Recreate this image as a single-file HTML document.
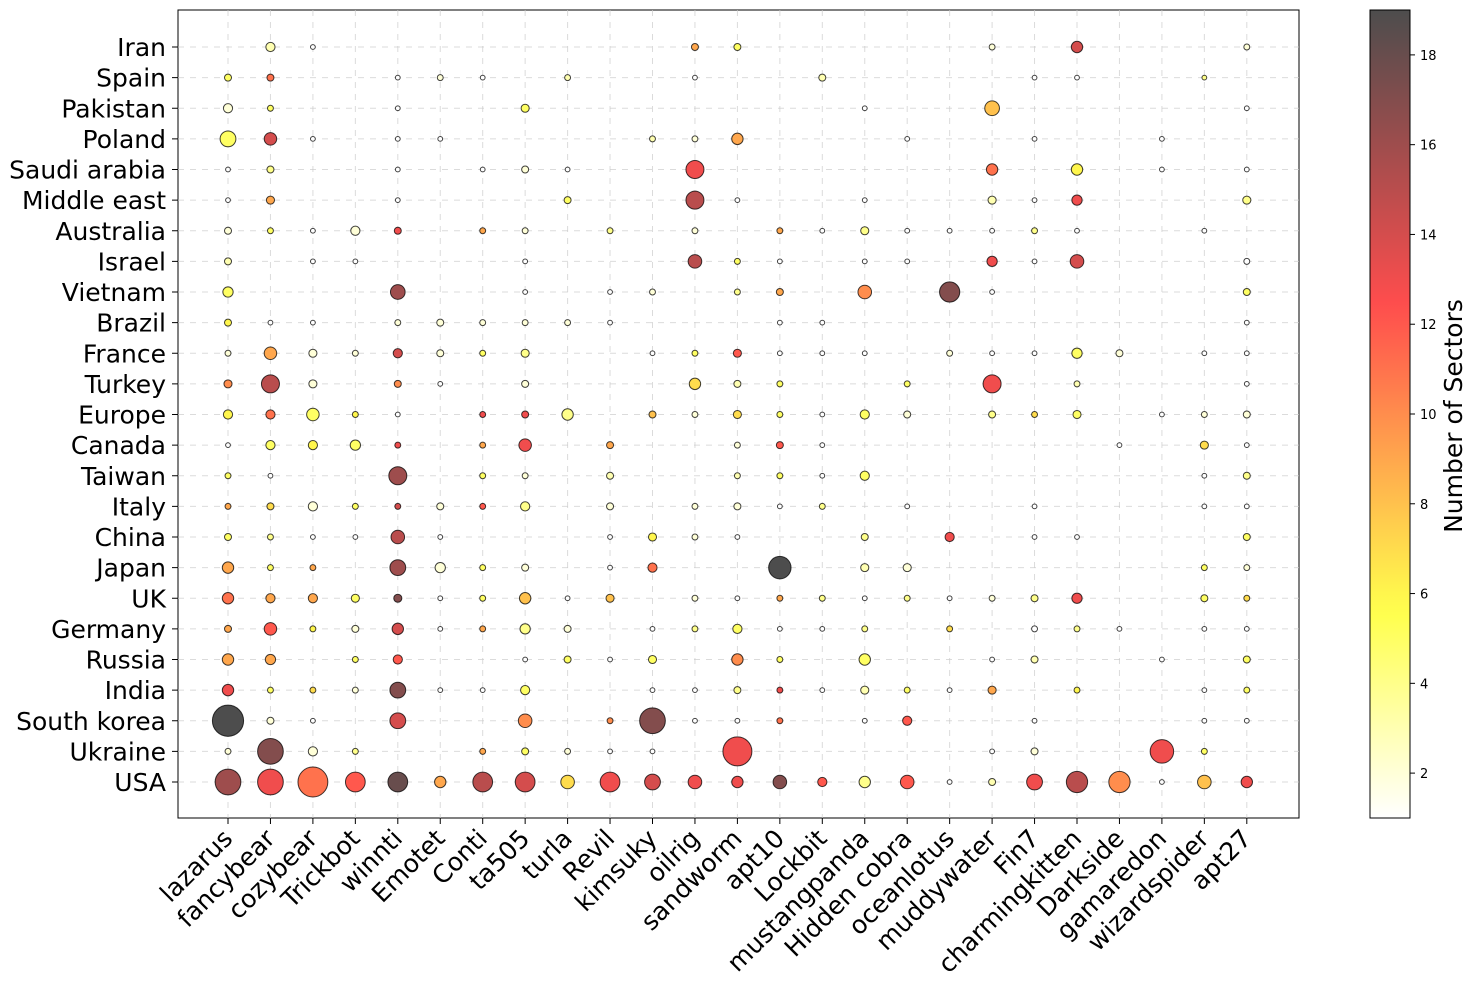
<!DOCTYPE html>
<html><head><meta charset="utf-8"><style>
html,body{margin:0;padding:0;background:#fff;}
svg{display:block;font-family:"DejaVu Sans","Liberation Sans",sans-serif;}
</style></head><body>
<svg id="chart" width="1476" height="990" viewBox="0 0 1476 990" xmlns="http://www.w3.org/2000/svg">
<defs><linearGradient id="cbgrad" x1="0" y1="1" x2="0" y2="0"></linearGradient></defs>
<rect x="178" y="10" width="1121" height="808" fill="#fff" stroke="#000" stroke-width="1"/>
<g id="grid"></g><g id="marks"></g><g id="xlabels"></g><g id="ylabels"></g><g id="colorbar"></g>
</svg>
<script>
const groups = ["lazarus","fancybear","cozybear","Trickbot","winnti","Emotet","Conti","ta505","turla","Revil","kimsuky","oilrig","sandworm","apt10","Lockbit","mustangpanda","Hidden cobra","oceanlotus","muddywater","Fin7","charmingkitten","Darkside","gamaredon","wizardspider","apt27"];
const countries = ["Iran","Spain","Pakistan","Poland","Saudi arabia","Middle east","Australia","Israel","Vietnam","Brazil","France","Turkey","Europe","Canada","Taiwan","Italy","China","Japan","UK","Germany","Russia","India","South korea","Ukraine","USA"];
const cbTicks = [2,4,6,8,10,12,14,16,18];
// each cell "sectors/size", "-" = none
const cells = [
["-","3/3","1/1","-","-","-","-","-","-","-","-","9/2","5/2","-","-","-","-","-","2/1.5","-","14/4","-","-","-","2/1.5"],
["5/2","11/2","-","-","1/1","2/1.5","1/1","-","3/1.5","-","-","1/1","-","-","3/2","-","-","-","-","1/1","1/1","-","-","4/1","-"],
["2/3","5/1.5","-","-","1/1","-","-","5/2.5","-","-","-","-","-","-","-","1/1","-","-","8/5.5","-","-","-","-","-","1/1"],
["5/6","14/4.5","1/1","-","1/1","1/1","-","-","-","-","3/1.5","2/1.5","9/4","-","-","-","1/1","-","-","1/1","-","-","1/1","-","-"],
["1/1","4/2","-","-","1/1","-","1/1","2/2","1/1","-","-","13/7","-","-","-","-","-","-","11/4","-","6/4","-","1/1","-","1/1"],
["1/1","9/2.5","-","-","1/1","-","-","-","5/2","-","-","15/7","1/1","-","-","1/1","-","-","3/2.5","1/1","13/3.5","-","-","-","4/2.5"],
["2/2","5/1.5","1/1","2/3","13/2","-","9/1.5","2/1.5","-","4/1.5","-","2/1.5","-","9/1.5","1/1","4/2.5","1/1","1/1","1/1","4/1.5","1/1","-","-","1/1","-"],
["3/2","-","1/1","1/1","-","-","-","1/1","-","-","-","15/5","5/1.5","1/1","-","1/1","1/1","-","13/3.5","1/1","14/5","-","-","-","1/1.5"],
["5/3.5","-","-","-","16/5.5","-","-","1/1","-","1/1","2/1.5","-","4/1.5","9/2","-","10/5","-","17/8","1/1","-","-","-","-","-","5/2"],
["6/2","1/1","1/1","-","2/1.5","2/2","2/1.5","2/1.5","2/1.5","1/1","-","-","-","1/1","1/1","-","-","-","-","-","-","-","-","-","1/1"],
["2/1.5","9/4.5","2/2.5","2/1.5","14/3","2/2","5/1.5","4/2.5","-","-","1/1","5/1.5","12/2.5","1/1","1/1","1/1","-","2/1.5","1/1","1/1","5/3.5","2/2","-","1/1","1/1"],
["10/2.5","15/7","2/2.5","-","10/2","1/1","-","2/2","-","-","-","7/4","3/2","5/1.5","-","-","5/1.5","-","13/7","-","3/1.5","-","-","-","1/1"],
["6/3","11/3","5/4.5","6/1.5","1/1","-","13/1.5","13/2","4/4","-","8/2","2/1.5","7/2.5","5/1.5","1/1","5/3","2/2","-","4/2","7/1.5","5/2.5","-","1/1","2/1.5","2/2"],
["1/1","5/3","6/3","5/3.5","13/1.5","-","9/1.5","13/4.5","-","9/2","-","-","2/1.5","12/2","1/1","-","-","-","-","-","-","1/1","-","7/2.5","1/1"],
["5/1.5","1/1","-","-","16/7","-","5/1.5","2/1.5","-","3/2","-","-","3/1.5","5/1.5","1/1","5/3","-","-","-","-","-","-","-","1/1","4/2"],
["9/1.5","7/2","2/3","5/1.5","14/1.5","2/2","12/1.5","4/3","-","2/2","-","2/1.5","2/2","1/1","4/1.5","-","1/1","-","-","1/1","-","-","-","1/1","1/1"],
["5/2","4/1.5","1/1","1/1","15/5","1/1","-","-","-","1/1","6/2.5","2/1.5","1/1","-","-","4/2","-","13/3","-","1/1","1/1","-","-","-","5/2"],
["9/4","5/1.5","9/1.5","-","16/6","2/3.5","5/1.5","2/2","-","1/1","11/3","-","-","19/9","-","3/2.5","2/2.5","-","-","-","-","-","-","5/1.5","2/1.5"],
["11/4","9/3","9/3","5/2.5","17/2.5","1/1","5/1.5","8/4","1/1","8/2.5","-","2/1.5","1/1","9/1.5","4/1.5","1/1","4/1.5","1/1","2/1.5","4/2","13/3.5","-","-","5/2","7/1.5"],
["9/2","12/4.5","6/1.5","2/2","14/4","1/1","9/1.5","4/3.5","2/2","-","1/1","4/1.5","5/3","1/1","1/1","4/1.5","-","7/1.5","-","1/1.5","4/1.5","1/1","-","1/1","1/1"],
["9/4","9/3.5","-","5/1.5","12/3","-","-","1/1","5/2","1/1","5/2.5","-","10/4","5/1.5","-","5/4","-","-","1/1","3/2","-","-","1/1","-","5/2"],
["13/4","5/1.5","7/1.5","2/1.5","17/6","1/1","1/1","5/3","-","-","1/1","1/1","4/2","13/1.5","1/1","3/2.5","5/1.5","1/1","9/2.5","-","6/1.5","-","-","1/1","5/1.5"],
["19/13","2/2","1/1","-","14/6","-","-","10/5","-","10/1.5","17/10.5","1/1","1/1","11/1.5","-","1/1","12/3","-","-","1/1","-","-","-","1/1","1/1"],
["2/1.5","17/10.5","2/3","4/1.5","-","-","9/1.5","5/2","2/1.5","1/1","1/1","-","13/12","-","-","-","-","-","1/1","2/2","-","-","13/9.5","5/1.5","-"],
["16/10.5","13/10.5","11/12.4","12/7.8","18/7.8","9/4","15/7.8","14/7.8","7/5","13/7.8","14/6","13/5","13/4","17/5","12/3","4/4","12/5","1/1","3/2","13/6","15/8.5","10/8.5","1/1","8/5","13/4"]
];
const NS="http://www.w3.org/2000/svg";
const X0=228, DX=42.45, Y0=47, DY=30.625;
function xs(i){return X0+i*DX;}
function ys(j){return Y0+j*DY;}
function rs(s){return 2.4+1.1*(s-1);}
function clip(v){return Math.max(0,Math.min(1,v));}
function col(c){
  const t=1-(c-1)/18;
  const r=clip(t/0.365), g=clip((t-0.365)/0.376), b=clip((t-0.746)/0.254);
  const a=0.7, f=v=>Math.round((a*v+(1-a))*255);
  return `rgb(${f(r)},${f(g)},${f(b)})`;
}
function mk(tag,attrs,parent){const e=document.createElementNS(NS,tag);for(const k in attrs)e.setAttribute(k,attrs[k]);parent.appendChild(e);return e;}
const grid=document.getElementById('grid');
groups.forEach((g,i)=>{
  const l=mk('line',{x1:xs(i),x2:xs(i),y1:10,y2:818,stroke:'#ccc','stroke-width':1,'stroke-dasharray':'6,6','opacity':0.7},grid);
  
  
  const t=mk('line',{x1:xs(i),x2:xs(i),y1:818,y2:824,stroke:'#000'},grid);
  
  
});
countries.forEach((c,j)=>{
  const l=mk('line',{x1:178,x2:1299,y1:ys(j),y2:ys(j),stroke:'#ccc','stroke-width':1,'stroke-dasharray':'6,6','opacity':0.7},grid);
  
  
  const t=mk('line',{x1:172,x2:178,y1:ys(j),y2:ys(j),stroke:'#000'},grid);
  
  
});
const marks=document.getElementById('marks');
cells.forEach((row,j)=>{row.forEach((v,i)=>{
  if(v==='-')return;
  const [c,s]=v.split('/').map(Number);
  const e=mk('circle',{cx:xs(i),cy:ys(j),r:rs(s),fill:col(c),stroke:'rgba(0,0,0,0.75)','stroke-width':1},marks);
  
  
});});
const xl=document.getElementById('xlabels');
groups.forEach((g,i)=>{
  const t=mk('text',{x:0,y:0,'text-anchor':'end','font-size':25,fill:'#000',transform:`translate(${xs(i)+6},${840}) rotate(-45)`},xl);
  t.textContent=g;
  
  
});
const yl=document.getElementById('ylabels');
countries.forEach((c,j)=>{
  const t=mk('text',{x:166,y:ys(j)+9,'text-anchor':'end','font-size':25,fill:'#000'},yl);
  t.textContent=c;
  
  
});
const grad=document.getElementById('cbgrad');
for(let k=0;k<=36;k++){const c=1+18*k/36;mk('stop',{offset:(k/36),'stop-color':col(c)},grad);}
const cb=document.getElementById('colorbar');
const cbr=mk('rect',{x:1370,y:10,width:40,height:808,fill:'url(#cbgrad)',stroke:'#000','stroke-width':1},cb);


function cy(v){return 818-(v-1)/18*808;}
cbTicks.forEach(v=>{
  const l=mk('line',{x1:1410,x2:1415,y1:cy(v),y2:cy(v),stroke:'#000'},cb);
  
  
  const t=mk('text',{x:1420,y:cy(v)+5,'font-size':13,fill:'#000'},cb);
  t.textContent=v;
  
  
});
const ct=mk('text',{x:0,y:0,'text-anchor':'middle','font-size':25,fill:'#000',transform:'translate(1462,416) rotate(-90)'},cb);
ct.textContent='Number of Sectors';


</script>
</body></html>
